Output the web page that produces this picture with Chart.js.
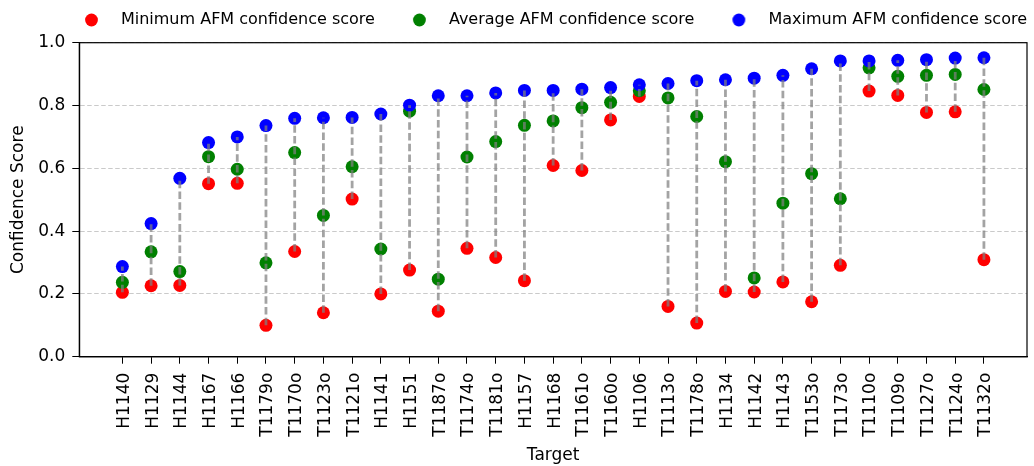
<!DOCTYPE html>
<html>
<head>
<meta charset="utf-8">
<script src="https://cdn.jsdelivr.net/npm/chart.js@4/dist/chart.umd.min.js"></script>
<style>
  html, body { margin: 0; padding: 0; background: #fff; }
  #wrap { width: 1034px; height: 466px; }
</style>
</head>
<body>
<div id="wrap"><canvas id="afmChart" width="1034" height="466"></canvas></div>
<script>
const targets = ['H1140', 'H1129', 'H1144', 'H1167', 'H1166', 'T1179o', 'T1170o', 'T1123o', 'T1121o', 'H1141',
  'H1151', 'T1187o', 'T1174o', 'T1181o', 'H1157', 'H1168', 'T1161o', 'T1160o', 'H1106', 'T1113o',
  'T1178o', 'H1134', 'H1142', 'H1143', 'T1153o', 'T1173o', 'T1110o', 'T1109o', 'T1127o', 'T1124o', 'T1132o'];
const minScores = [0.205, 0.226, 0.227, 0.551, 0.552, 0.100, 0.335, 0.140, 0.502, 0.200,
  0.276, 0.145, 0.345, 0.316, 0.242, 0.609, 0.593, 0.754, 0.829, 0.160,
  0.107, 0.208, 0.206, 0.238, 0.175, 0.291, 0.846, 0.832, 0.778, 0.780, 0.309];
const avgScores = [0.237, 0.334, 0.271, 0.637, 0.597, 0.299, 0.650, 0.450, 0.605, 0.343,
  0.782, 0.247, 0.636, 0.685, 0.737, 0.751, 0.793, 0.810, 0.847, 0.824,
  0.765, 0.621, 0.251, 0.489, 0.583, 0.503, 0.920, 0.893, 0.896, 0.899, 0.851];
const maxScores = [0.287, 0.424, 0.568, 0.682, 0.700, 0.736, 0.759, 0.761, 0.762, 0.773,
  0.801, 0.831, 0.831, 0.840, 0.848, 0.848, 0.852, 0.857, 0.866, 0.870,
  0.879, 0.882, 0.887, 0.896, 0.917, 0.942, 0.942, 0.944, 0.946, 0.951, 0.952];
const yTicks = [0, 0.2, 0.4, 0.6, 0.8, 1.0];

const font = 'DejaVu Sans';

// legend marker: a dot sitting towards the right of a wide transparent box
function legendDot(color) {
  const c = document.createElement('canvas');
  c.width = 38;
  c.height = 14;
  const g = c.getContext('2d');
  g.fillStyle = color;
  g.beginPath();
  g.arc(30.5, 7, 6.4, 0, Math.PI * 2);
  g.fill();
  return c;
}

const points = arr => arr.map((v, i) => ({ x: i, y: v }));
const connectors = targets.flatMap((t, i) => [
  { x: i, y: minScores[i] }, { x: i, y: maxScores[i] }, { x: i, y: null }
]);

// matplotlib style box around the plot
const frame = {
  id: 'frame',
  beforeLayout(chart) {
    const lg = chart.legend;
    if (lg && !lg._gapPatched) {
      const fit = lg.fit;
      lg.fit = function () { fit.call(this); this.height += 4.7; };
      lg._gapPatched = true;
    }
  },
  afterDraw(chart) {
    const { ctx, chartArea: a } = chart;
    ctx.save();
    ctx.strokeStyle = '#000';
    ctx.lineWidth = 1.2;
    ctx.strokeRect(a.left, a.top, a.right - a.left, a.bottom - a.top);
    ctx.restore();
  }
};

const ctx = document.getElementById('afmChart').getContext('2d');
new Chart(ctx, {
  type: 'scatter',
  data: {
    datasets: [
      {
        label: 'Minimum AFM confidence score',
        data: points(minScores),
        backgroundColor: '#ff0000',
        borderWidth: 0,
        pointRadius: 6.5,
        order: 3
      },
      {
        label: 'Average AFM confidence score',
        data: points(avgScores),
        backgroundColor: '#008000',
        borderWidth: 0,
        pointRadius: 6.5,
        order: 2
      },
      {
        label: 'Maximum AFM confidence score',
        data: points(maxScores),
        backgroundColor: '#0000ff',
        borderWidth: 0,
        pointRadius: 6.5,
        order: 1
      },
      {
        type: 'line',
        label: 'range',
        data: connectors,
        borderColor: 'rgba(128, 128, 128, 0.72)',
        borderWidth: 2.8,
        borderDash: [7.5, 3.3],
        pointRadius: 0,
        spanGaps: false,
        order: 0
      }
    ]
  },
  options: {
    responsive: false,
    animation: false,
    events: [],
    layout: { padding: { left: 4.3, right: 7, top: 12, bottom: 0 } },
    plugins: {
      tooltip: { enabled: false },
      legend: {
        position: 'top',
        align: 'end',
        labels: {
          usePointStyle: true,
          pointStyleWidth: 66,
          padding: 0,
          color: '#000',
          font: { family: font, size: 16 },
          sort: (a, b) => a.datasetIndex - b.datasetIndex,
          filter: item => item.datasetIndex < 3,
          generateLabels: chart =>
            Chart.defaults.plugins.legend.labels.generateLabels(chart).map(item => ({
              ...item,
              pointStyle: legendDot(item.fillStyle)
            }))
        }
      }
    },
    scales: {
      x: {
        type: 'linear',
        min: -1.5,
        max: 31.5,
        afterBuildTicks: axis => { axis.ticks = targets.map((t, i) => ({ value: i })); },
        afterFit: axis => { axis.height = 109.3; },
        grid: { drawOnChartArea: false, drawTicks: true, tickLength: 7, tickColor: '#000', tickWidth: 1 },
        border: { display: true, color: '#000', width: 1.2 },
        ticks: {
          autoSkip: false,
          minRotation: 90,
          maxRotation: 90,
          padding: 9,
          labelOffset: 2,
          color: '#000',
          font: { family: font, size: 17 },
          callback: (v, i) => targets[i]
        },
        title: {
          display: true,
          text: 'Target',
          color: '#000',
          font: { family: font, size: 17 },
          padding: { top: 0, bottom: 0 }
        }
      },
      y: {
        min: 0,
        max: 1,
        afterBuildTicks: axis => { axis.ticks = yTicks.map(v => ({ value: v })); },
        afterFit: axis => { axis.width = 75; },
        grid: {
          color: 'rgba(180, 180, 180, 0.7)',
          lineWidth: 1,
          drawTicks: true,
          tickLength: 7,
          tickColor: '#000',
          tickWidth: 1,
          tickBorderDash: []
        },
        border: { display: true, color: '#000', width: 1.2, dash: [4.5, 2.5] },
        ticks: {
          padding: 7,
          color: '#000',
          font: { family: font, size: 17 },
          callback: v => v.toFixed(1)
        },
        title: {
          display: true,
          text: 'Confidence Score',
          color: '#000',
          font: { family: font, size: 17 },
          padding: { top: 4.5, bottom: 0 }
        }
      }
    }
  },
  plugins: [frame]
});
</script>
</body>
</html>
